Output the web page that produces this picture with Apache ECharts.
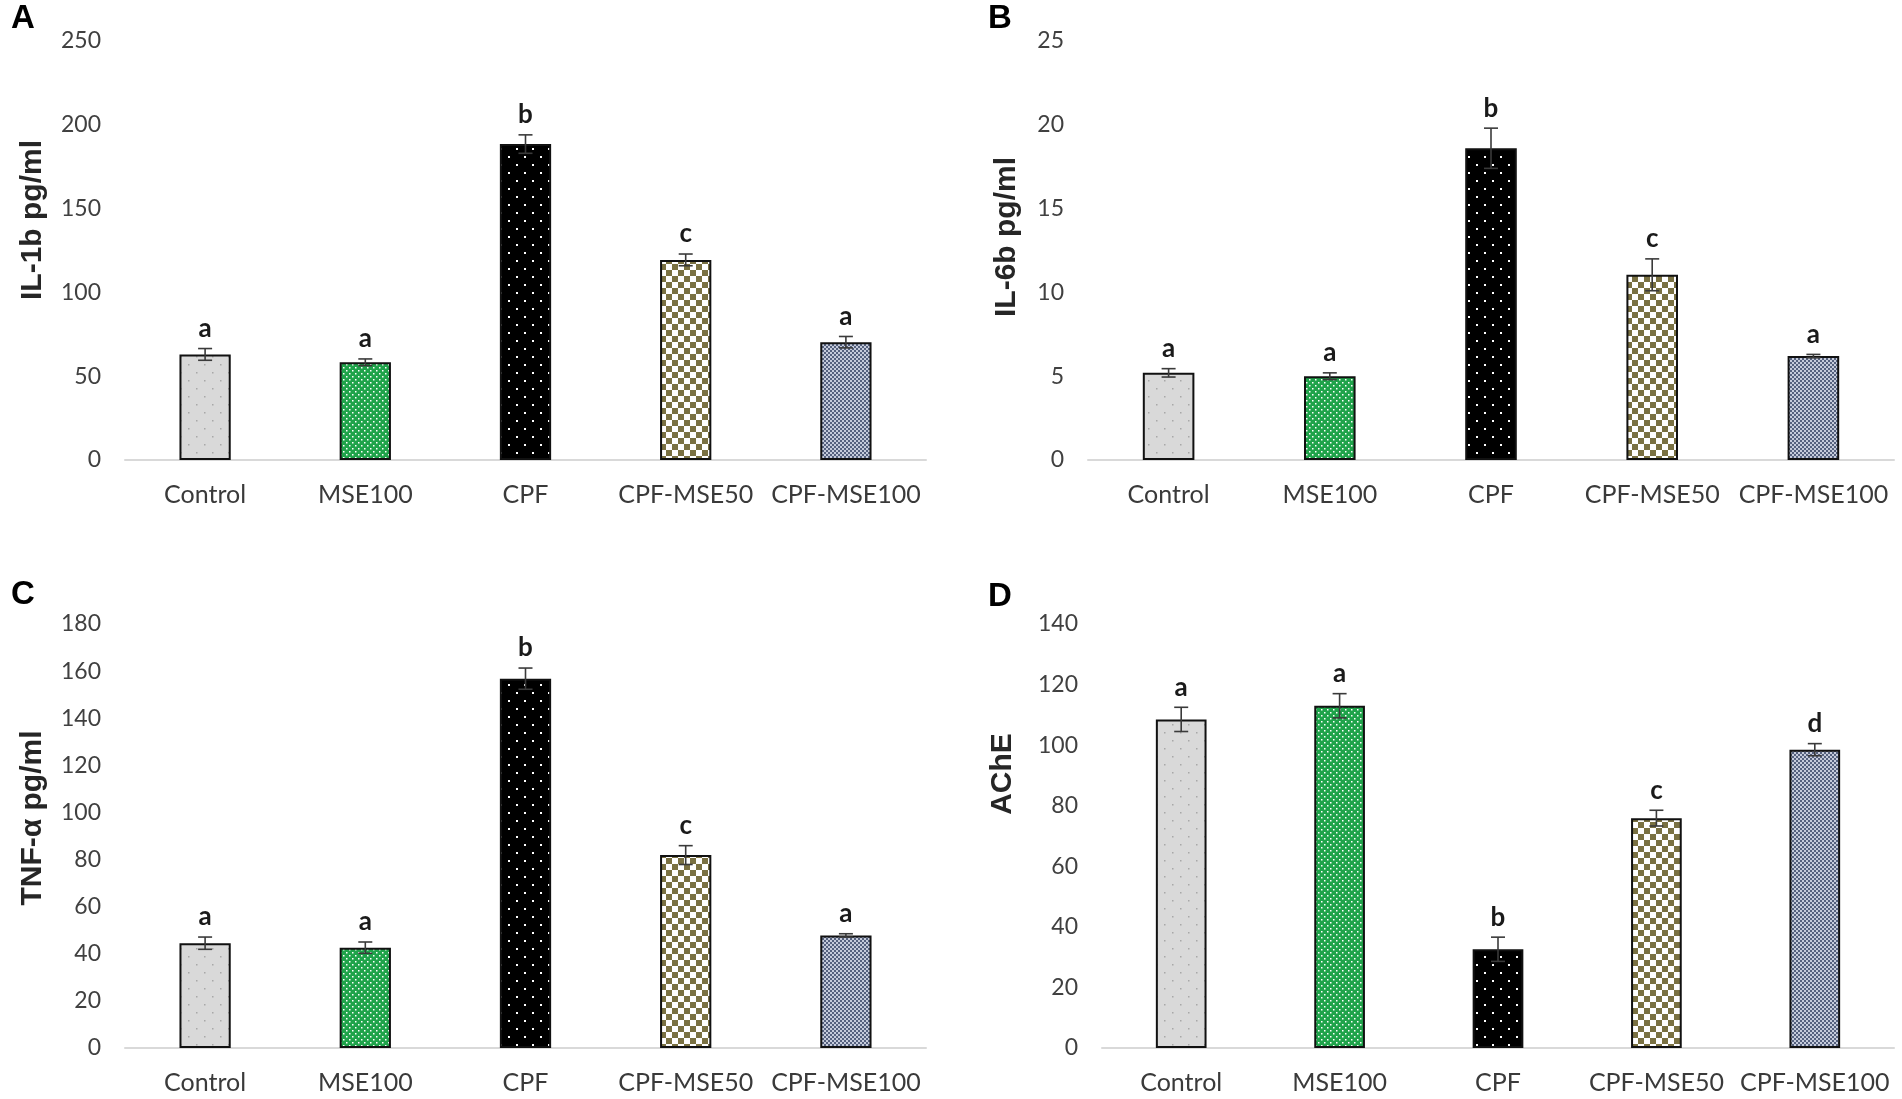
<!DOCTYPE html>
<html>
<head>
<meta charset="utf-8">
<script src="https://cdn.jsdelivr.net/npm/echarts@6/dist/echarts.min.js"></script>
<style>
  html, body { margin: 0; padding: 0; background: #fff; }
  #chart { width: 1902px; height: 1099px; }
</style>
</head>
<body>
<div id="chart"></div>
<script>
// groups on the x axis
var categories = ['Control', 'MSE100', 'CPF', 'CPF-MSE50', 'CPF-MSE100'];

// A - IL-1b
var il1bMean = [63, 58.3, 188.5, 119.4, 70.3];
var il1bErr = [3.5, 2, 5.5, 3.5, 3.4];
var il1bLetters = ['a', 'a', 'b', 'c', 'a'];

// B - IL-6b
var il6bMean = [5.2, 5.0, 18.6, 11.05, 6.2];
var il6bErr = [0.25, 0.2, 1.2, 0.95, 0.1];
var il6bLetters = ['a', 'a', 'b', 'c', 'a'];

// C - TNF-a
var tnfMean = [44.5, 42.6, 156.8, 81.9, 47.8];
var tnfErr = [2.6, 2.4, 4.5, 4, 0.7];
var tnfLetters = ['a', 'a', 'b', 'c', 'a'];

// D - AChE
var acheMean = [108.5, 113, 32.6, 75.9, 98.5];
var acheErr = [4, 4, 4, 2.6, 2];
var acheLetters = ['a', 'a', 'b', 'c', 'd'];

// little canvases used as bar fills
function makePattern(w, h, bg, draw) {
    var c = document.createElement('canvas');
    c.width = w;
    c.height = h;
    var ctx = c.getContext('2d');
    ctx.fillStyle = bg;
    ctx.fillRect(0, 0, w, h);
    draw(ctx);
    return { image: c, repeat: 'repeat' };
}

var fills = [
    makePattern(16, 16, '#d9d9d9', function (ctx) {
        ctx.fillStyle = '#a8a8a8';
        ctx.fillRect(4, 4, 1.5, 1.5);
        ctx.fillRect(12, 12, 1.5, 1.5);
    }),
    makePattern(6, 6, '#1fa34a', function (ctx) {
        ctx.fillStyle = '#ffffff';
        ctx.fillRect(1, 1, 1.5, 1.5);
        ctx.fillRect(4, 4, 1.5, 1.5);
    }),
    makePattern(16, 16, '#000000', function (ctx) {
        ctx.fillStyle = '#ffffff';
        ctx.fillRect(4, 4, 2, 2);
        ctx.fillRect(12, 12, 2, 2);
    }),
    makePattern(12, 12, '#ffffff', function (ctx) {
        ctx.fillStyle = '#7a7142';
        ctx.fillRect(0, 0, 6, 6);
        ctx.fillRect(6, 6, 6, 6);
    }),
    makePattern(4, 4, '#c5cbdb', function (ctx) {
        ctx.fillStyle = '#55617e';
        ctx.fillRect(0, 0, 2, 2);
        ctx.fillRect(2, 2, 2, 2);
    })
];

var grids = [
    { left: 125, top: 41, width: 801, height: 419 },
    { left: 1088, top: 41, width: 806, height: 419 },
    { left: 125, top: 624, width: 801, height: 424 },
    { left: 1102, top: 624, width: 792, height: 424 }
];

function xAxisFor(idx) {
    return {
        type: 'category',
        gridIndex: idx,
        data: categories,
        axisLine: { lineStyle: { color: '#d9d9d9', width: 2 } },
        axisTick: { show: false },
        axisLabel: {
            interval: 0,
            margin: 22,
            color: '#3a3a3a',
            fontFamily: 'Lato',
            fontSize: 25
        }
    };
}

function yAxisFor(idx, max, interval) {
    return {
        type: 'value',
        gridIndex: idx,
        min: 0,
        max: max,
        interval: interval,
        axisLine: { show: false },
        axisTick: { show: false },
        splitLine: { show: false },
        axisLabel: {
            margin: 24,
            color: '#404040',
            fontFamily: 'Lato',
            fontSize: 23
        }
    };
}

function barSeries(idx, values) {
    return {
        type: 'bar',
        xAxisIndex: idx,
        yAxisIndex: idx,
        barWidth: '32%',
        data: values.map(function (v, i) {
            return {
                value: v,
                itemStyle: {
                    color: fills[i],
                    borderColor: '#111',
                    borderWidth: 2
                }
            };
        })
    };
}

function errSeries(idx, values, errs, letters) {
    return {
        type: 'custom',
        xAxisIndex: idx,
        yAxisIndex: idx,
        z: 10,
        data: values.map(function (v, i) { return [i, v, errs[i]]; }),
        renderItem: function (params, api) {
            var i = api.value(0), v = api.value(1), e = api.value(2);
            var top = api.coord([i, v + e]);
            var bot = api.coord([i, v - e]);
            var cap = 7;
            var ls = { stroke: '#3a3a3a', lineWidth: 1.6 };
            return {
                type: 'group',
                children: [
                    { type: 'line', shape: { x1: top[0], y1: top[1], x2: bot[0], y2: bot[1] }, style: ls },
                    { type: 'line', shape: { x1: top[0] - cap, y1: top[1], x2: top[0] + cap, y2: top[1] }, style: ls },
                    { type: 'line', shape: { x1: bot[0] - cap, y1: bot[1], x2: bot[0] + cap, y2: bot[1] }, style: ls },
                    {
                        type: 'text',
                        x: top[0],
                        y: top[1] - 7,
                        style: {
                            text: letters[params.dataIndex],
                            fill: '#1a1a1a',
                            font: 'bold 26px Lato',
                            textAlign: 'center',
                            textVerticalAlign: 'bottom',
                            align: 'center',
                            verticalAlign: 'bottom'
                        }
                    }
                ]
            };
        }
    };
}

// rotated y axis titles, placed like the original
function axisTitle(text, x, y) {
    return {
        type: 'text',
        x: x,
        y: y,
        rotation: Math.PI / 2,
        style: {
            text: text,
            fill: '#262626',
            font: 'bold 30px "Liberation Sans"',
            align: 'center',
            verticalAlign: 'middle'
        }
    };
}

var panelLetterStyle = {
    color: '#000',
    fontFamily: 'Liberation Sans',
    fontWeight: 'bold',
    fontSize: 33
};

var chart = echarts.init(document.getElementById('chart'), null, { renderer: 'canvas' });

var option = {
    backgroundColor: '#ffffff',
    animation: false,
    title: [
        { text: 'A', left: 11, top: 2, padding: 0, textStyle: panelLetterStyle },
        { text: 'B', left: 988, top: 2, padding: 0, textStyle: panelLetterStyle },
        { text: 'C', left: 11, top: 578, padding: 0, textStyle: panelLetterStyle },
        { text: 'D', left: 988, top: 580, padding: 0, textStyle: panelLetterStyle }
    ],
    graphic: [
        axisTitle('IL-1b pg/ml', 33, 220),
        axisTitle('IL-6b pg/ml', 1007, 237),
        axisTitle('TNF-α pg/ml', 33, 818),
        axisTitle('AChE', 1003, 774)
    ],
    grid: grids,
    xAxis: [xAxisFor(0), xAxisFor(1), xAxisFor(2), xAxisFor(3)],
    yAxis: [
        yAxisFor(0, 250, 50),
        yAxisFor(1, 25, 5),
        yAxisFor(2, 180, 20),
        yAxisFor(3, 140, 20)
    ],
    series: [
        barSeries(0, il1bMean),
        errSeries(0, il1bMean, il1bErr, il1bLetters),
        barSeries(1, il6bMean),
        errSeries(1, il6bMean, il6bErr, il6bLetters),
        barSeries(2, tnfMean),
        errSeries(2, tnfMean, tnfErr, tnfLetters),
        barSeries(3, acheMean),
        errSeries(3, acheMean, acheErr, acheLetters)
    ]
};

chart.setOption(option);
</script>
</body>
</html>
